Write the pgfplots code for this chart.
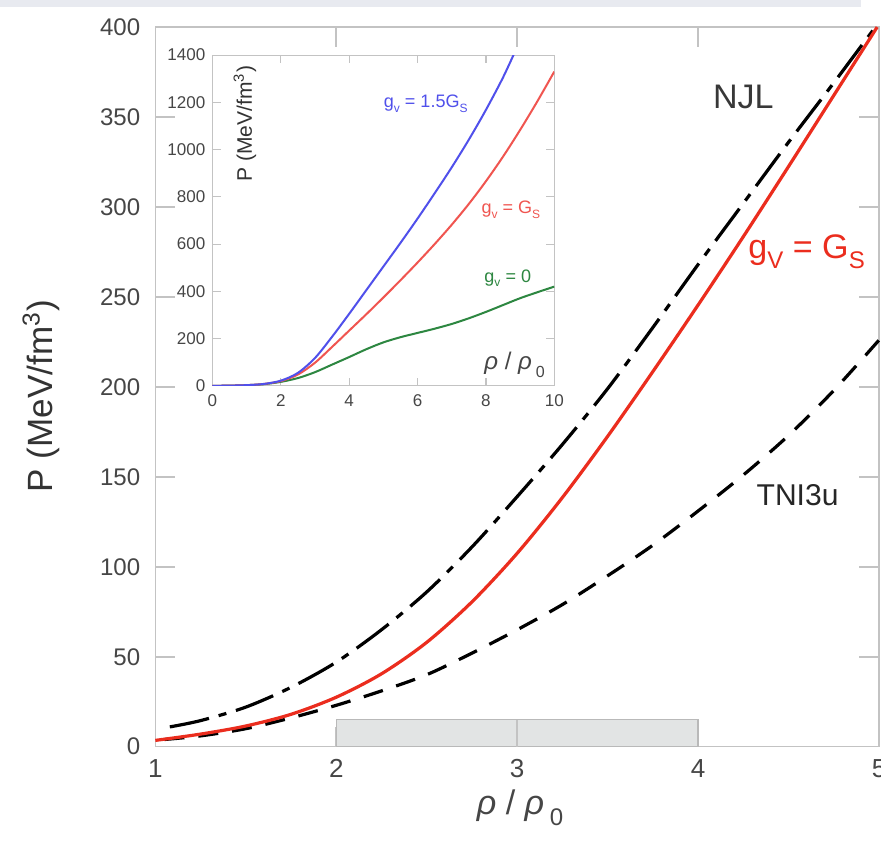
\documentclass[border=0pt]{standalone}
\usepackage{fontspec}
\setmainfont{Liberation Sans}
\usepackage{pgfplots}
\pgfplotsset{compat=1.18}

\definecolor{redmain}{RGB}{235,45,30}
\definecolor{inblue}{RGB}{80,80,235}
\definecolor{inred}{RGB}{240,85,80}
\definecolor{ingreen}{RGB}{45,135,65}
\definecolor{framegray}{RGB}{195,195,195}
\definecolor{ticktext}{RGB}{70,70,70}
\definecolor{band}{RGB}{232,234,240}
\definecolor{boxgray}{RGB}{226,228,228}

\newcommand{\rhoit}{{\itshape ρ}}

\begin{document}
\begin{tikzpicture}
\path[use as bounding box] (-77.5pt,-50pt) rectangle (362pt,372.5pt);
\fill[band] (-77.5pt,369pt) rectangle (352pt,372.5pt);

% main plot
\begin{axis}[
  name=main, at={(0,0)}, anchor=south west,
  scale only axis, width=361pt, height=359pt,
  xmin=1, xmax=5, ymin=0, ymax=400,
  xtick={1,2,3,4,5}, ytick={0,50,...,400},
  tick align=inside, major tick length=10pt,
  axis line style={framegray, line width=0.8pt},
  every tick/.style={framegray, line width=0.8pt},
  /pgf/number format/assume math mode=true,
  tick label style={text=ticktext},
  yticklabel style={font=\fontsize{12}{14}\selectfont, xshift=-4pt},
  xticklabel style={font=\fontsize{13}{15}\selectfont, yshift=-3pt},
  xlabel={\rhoit\ / \rhoit\,\raisebox{-0.6ex}{\fontsize{12}{12}\selectfont 0}},
  xlabel style={font=\fontsize{17}{20}\selectfont, text=ticktext, at={(axis description cs:0.504,-0.085)}, anchor=center},
  ylabel={P (MeV/fm\textsuperscript{3})},
  ylabel style={font=\fontsize{17.5}{20}\selectfont, text=black!80, at={(axis description cs:-0.158,0.487)}, anchor=center, rotate=0},
  clip=false,
]
\addplot[draw=gray!55, fill=boxgray, line width=0.6pt] coordinates {(2,0) (2,15) (4,15) (4,0)} -- cycle;
\draw[framegray, line width=0.8pt] (axis cs:3,0) -- (axis cs:3,15);

% NJL, dash-dot
\addplot[black, line width=1.6pt, smooth, dash pattern=on 20pt off 5pt on 4pt off 5pt] coordinates {
(1.08,11)(1.25,14.5)(1.5,22)(1.75,33)(2,47)(2.25,65)(2.5,86)(2.75,111)(3,139)
(3.25,168)(3.5,199)(3.75,233)(4,268)(4.25,302)(4.5,336)(4.75,369)(4.98,400)};

% TNI3u, dashed
\addplot[black, line width=1.6pt, smooth, dash pattern=on 10pt off 7pt] coordinates {
(1.05,4)(1.25,6)(1.5,10)(1.75,16)(2,23)(2.25,31)(2.5,40)(2.75,52)(3,65)(3.25,79)
(3.5,95)(3.75,112)(4,131)(4.25,151)(4.5,173)(4.75,198)(5,226)};

% NJL gV = GS, solid red
\addplot[redmain, line width=1.6pt, smooth] coordinates {
(1,3.5)(1.25,7)(1.5,11.5)(1.75,18)(2,27.5)(2.25,40.5)(2.5,58)(2.75,80.5)(3,107.5)
(3.25,138.5)(3.5,172.5)(3.75,208.5)(4,245.5)(4.25,283.5)(4.5,322.5)(4.75,362)(4.99,400)};

\node[font=\fontsize{17}{20}\selectfont, text=black!78] at (axis cs:4.25,361) {NJL};
\node[font=\fontsize{17}{20}\selectfont, text=redmain] at (axis cs:4.60,275)
  {g\raisebox{-0.55ex}{\fontsize{12}{12}\selectfont V} = G\raisebox{-0.55ex}{\fontsize{12}{12}\selectfont S}};
\node[font=\fontsize{15}{18}\selectfont, text=black!85] at (axis cs:4.55,140) {TNI3u};
\end{axis}

% inset
\begin{axis}[
  at={(28.5pt,180pt)}, anchor=south west,
  scale only axis, width=170.5pt, height=165pt,
  xmin=0, xmax=10, ymin=0, ymax=1400,
  xtick={0,2,...,10}, ytick={0,200,...,1400},
  tick align=inside, major tick length=4pt,
  axis line style={framegray, line width=0.6pt},
  every tick/.style={framegray, line width=0.6pt},
  axis background/.style={fill=white},
  /pgf/number format/assume math mode=true,
  /pgf/number format/1000 sep={},
  tick label style={font=\fontsize{8.5}{10}\selectfont, text=ticktext},
  xticklabel style={yshift=-1pt},
  clip mode=individual,
]
\addplot[ingreen, line width=1pt, smooth] coordinates {
(0,0)(0.5,1)(1,3)(1.5,7)(2,17)(2.5,33)(3,58)(3.5,90)(4,122)(4.5,155)(5,184)(5.5,206)
(6,224)(6.5,242)(7,262)(7.5,286)(8,313)(8.5,342)(9,371)(9.5,396)(10,420)};
\addplot[inred, line width=1pt, smooth] coordinates {
(0,0)(0.5,1)(1,3)(1.5,8)(2,20)(2.5,48)(3,98)(3.5,165)(4,234)(4.5,303)(5,374)(5.5,447)
(6,522)(6.5,600)(7,682)(7.5,770)(8,866)(8.5,970)(9,1083)(9.5,1203)(10,1330)};
\addplot[inblue, line width=1pt, smooth] coordinates {
(0,0)(0.5,1)(1,3)(1.5,8)(2,22)(2.5,55)(3,118)(3.5,208)(4,305)(4.5,405)(5,505)(5.5,605)
(6,708)(6.5,815)(7,925)(7.5,1042)(8,1168)(8.5,1305)(8.9,1430)};

\node[font=\fontsize{9}{11}\selectfont, text=inblue] at (axis cs:6.24,1195)
  {g\raisebox{-0.5ex}{\fontsize{6}{6}\selectfont v} = 1.5G\raisebox{-0.5ex}{\fontsize{6}{6}\selectfont S}};
\node[font=\fontsize{9}{11}\selectfont, text=inred] at (axis cs:8.73,747)
  {g\raisebox{-0.5ex}{\fontsize{6}{6}\selectfont v} = G\raisebox{-0.5ex}{\fontsize{6}{6}\selectfont S}};
\node[font=\fontsize{9}{11}\selectfont, text=ingreen] at (axis cs:8.64,456)
  {g\raisebox{-0.5ex}{\fontsize{6}{6}\selectfont v} = 0};
\node[font=\fontsize{12}{14}\selectfont, text=ticktext] at (axis cs:8.84,89)
  {\rhoit\ / \rhoit\,\raisebox{-0.6ex}{\fontsize{8}{8}\selectfont 0}};
\node[font=\fontsize{10.5}{12}\selectfont, text=black!80, rotate=90] at (axis cs:0.95,1110)
  {P (MeV/fm\textsuperscript{3})};
\end{axis}
\end{tikzpicture}
\end{document}
